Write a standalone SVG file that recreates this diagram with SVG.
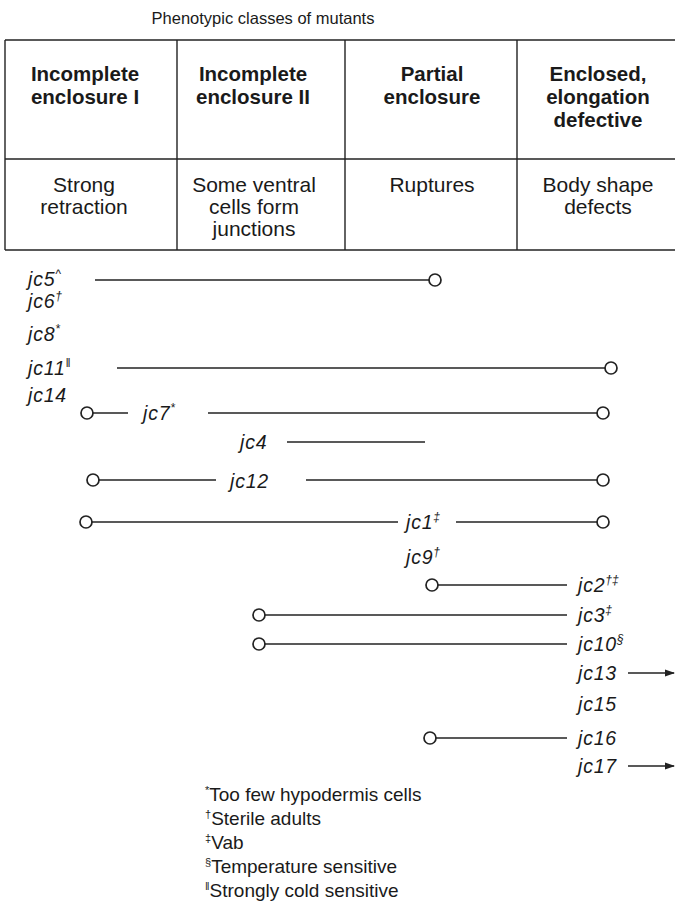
<svg xmlns="http://www.w3.org/2000/svg" width="675" height="906" viewBox="0 0 675 906">
<defs>
<style>
text{font-family:"Liberation Sans",Arial,sans-serif;fill:#1a1a1a;}
.t{font-size:16.5px;}
.h{font-size:20.5px;font-weight:bold;text-anchor:middle;}
.c{font-size:21px;text-anchor:middle;}
.m{font-size:19.5px;font-style:italic;letter-spacing:0.8px;}
.s{font-size:12px;letter-spacing:0;}
.fs{font-size:11px;}
.f{font-size:19px;}
.tb{stroke:#222;stroke-width:1.4;fill:none;}
.ln{stroke:#222;stroke-width:1.4;fill:none;}
.ck{stroke:#222;stroke-width:1.7;fill:#fff;}
</style>
<marker id="ah" viewBox="0 0 10 10" refX="9" refY="5" markerWidth="10" markerHeight="10" orient="auto" markerUnits="userSpaceOnUse">
<path d="M0,1.5 L10,5 L0,8.5 Z" fill="#222"/>
</marker>
</defs>
<rect width="675" height="906" fill="#fff"/>
<text class="t" x="263" y="24" text-anchor="middle">Phenotypic classes of mutants</text>
<g id="table">
<line class="tb" x1="5" y1="40" x2="675" y2="40"/>
<line class="tb" x1="5" y1="159" x2="675" y2="159"/>
<line class="tb" x1="5" y1="250" x2="675" y2="250"/>
<line class="tb" x1="5" y1="40" x2="5" y2="250"/>
<line class="tb" x1="177" y1="40" x2="177" y2="250"/>
<line class="tb" x1="345" y1="40" x2="345" y2="250"/>
<line class="tb" x1="517" y1="40" x2="517" y2="250"/>
</g>
<g id="class1">
<text class="h" x="85" y="81">Incomplete</text>
<text class="h" x="85" y="104">enclosure I</text>
<text class="c" x="84" y="192">Strong</text>
<text class="c" x="84" y="214">retraction</text>
</g>
<g id="class2">
<text class="h" x="253" y="81">Incomplete</text>
<text class="h" x="253" y="104">enclosure II</text>
<text class="c" x="254" y="192">Some ventral</text>
<text class="c" x="254" y="214">cells form</text>
<text class="c" x="254" y="236">junctions</text>
</g>
<g id="class3">
<text class="h" x="432" y="81">Partial</text>
<text class="h" x="432" y="104">enclosure</text>
<text class="c" x="432" y="192">Ruptures</text>
</g>
<g id="class4">
<text class="h" x="598" y="81">Enclosed,</text>
<text class="h" x="598" y="104">elongation</text>
<text class="h" x="598" y="127">defective</text>
<text class="c" x="598" y="192">Body shape</text>
<text class="c" x="598" y="214">defects</text>
</g>
<g id="mutants">
<text class="m" x="28" y="286">jc5<tspan class="s" dy="-8">^</tspan></text>
<text class="m" x="28" y="308">jc6<tspan class="s" dy="-8">†</tspan></text>
<text class="m" x="28" y="341">jc8<tspan class="s" dy="-8">*</tspan></text>
<text class="m" x="28" y="375">jc11<tspan class="s" dy="-8">‖</tspan></text>
<text class="m" x="28" y="402">jc14</text>
<text class="m" x="143" y="420">jc7<tspan class="s" dy="-8">*</tspan></text>
<text class="m" x="240" y="449">jc4</text>
<text class="m" x="230" y="488">jc12</text>
<text class="m" x="406" y="529">jc1<tspan class="s" dy="-8">‡</tspan></text>
<text class="m" x="406" y="564">jc9<tspan class="s" dy="-8">†</tspan></text>
<text class="m" x="578" y="592">jc2<tspan class="s" dy="-8">†‡</tspan></text>
<text class="m" x="578" y="622">jc3<tspan class="s" dy="-8">‡</tspan></text>
<text class="m" x="578" y="651">jc10<tspan class="s" dy="-8">§</tspan></text>
<text class="m" x="578" y="680">jc13</text>
<text class="m" x="578" y="711">jc15</text>
<text class="m" x="578" y="745">jc16</text>
<text class="m" x="578" y="773">jc17</text>
</g>
<g id="connectors">
<line class="ln" x1="95" y1="280" x2="429" y2="280"/>
<circle class="ck" cx="435" cy="280" r="6"/>
<line class="ln" x1="117" y1="368" x2="605" y2="368"/>
<circle class="ck" cx="611" cy="368" r="6"/>
<circle class="ck" cx="87" cy="413" r="6"/>
<line class="ln" x1="93" y1="413" x2="128" y2="413"/>
<line class="ln" x1="208" y1="413" x2="597" y2="413"/>
<circle class="ck" cx="603" cy="413" r="6"/>
<line class="ln" x1="287" y1="442" x2="425" y2="442"/>
<circle class="ck" cx="93" cy="480" r="6"/>
<line class="ln" x1="99" y1="480" x2="216" y2="480"/>
<line class="ln" x1="306" y1="480" x2="597" y2="480"/>
<circle class="ck" cx="603" cy="480" r="6"/>
<circle class="ck" cx="86" cy="522" r="6"/>
<line class="ln" x1="92" y1="522" x2="398" y2="522"/>
<line class="ln" x1="456" y1="522" x2="597" y2="522"/>
<circle class="ck" cx="603" cy="522" r="6"/>
<circle class="ck" cx="432" cy="585" r="6"/>
<line class="ln" x1="438" y1="585" x2="567" y2="585"/>
<circle class="ck" cx="259" cy="615" r="6"/>
<line class="ln" x1="265" y1="615" x2="567" y2="615"/>
<circle class="ck" cx="259" cy="644" r="6"/>
<line class="ln" x1="265" y1="644" x2="567" y2="644"/>
<line class="ln" x1="628" y1="673" x2="674" y2="673" marker-end="url(#ah)"/>
<circle class="ck" cx="430" cy="738" r="6"/>
<line class="ln" x1="436" y1="738" x2="567" y2="738"/>
<line class="ln" x1="628" y1="766" x2="674" y2="766" marker-end="url(#ah)"/>
</g>
<g id="footnotes">
<text class="f" x="205" y="801"><tspan class="fs" dy="-7">*</tspan><tspan dy="7">Too few hypodermis cells</tspan></text>
<text class="f" x="205" y="825"><tspan class="fs" dy="-7">†</tspan><tspan dy="7">Sterile adults</tspan></text>
<text class="f" x="205" y="849"><tspan class="fs" dy="-7">‡</tspan><tspan dy="7">Vab</tspan></text>
<text class="f" x="205" y="873"><tspan class="fs" dy="-7">§</tspan><tspan dy="7">Temperature sensitive</tspan></text>
<text class="f" x="205" y="897"><tspan class="fs" dy="-7">‖</tspan><tspan dy="7">Strongly cold sensitive</tspan></text>
</g>
</svg>
